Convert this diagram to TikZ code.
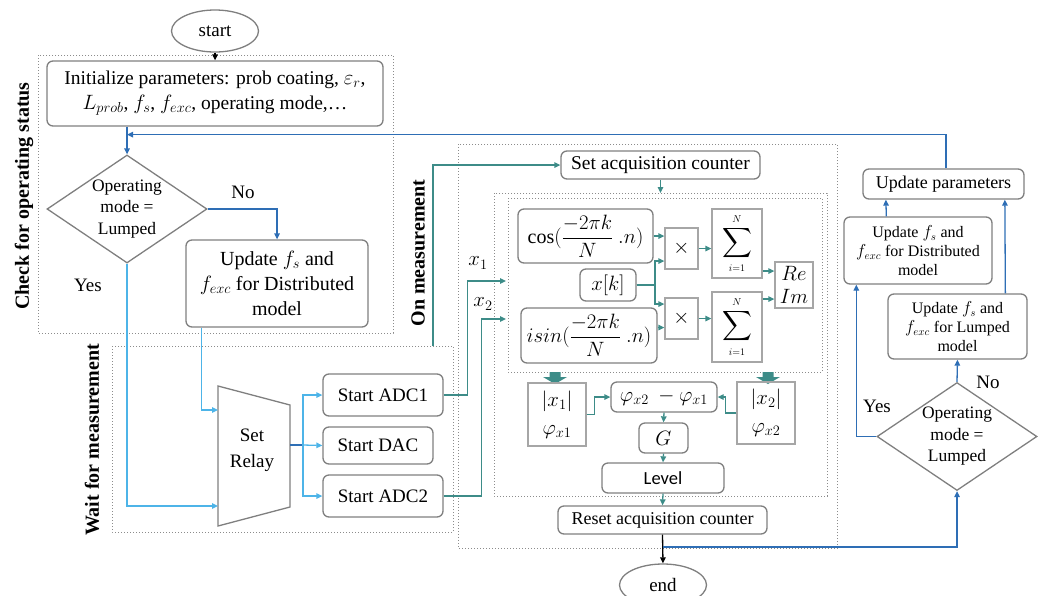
\documentclass[tikz,border=0pt]{standalone}
\usepackage{amsmath}
\usepackage{fontspec}
\setmainfont{Liberation Serif}
\newfontfamily\levelfont{Carlito}
\usetikzlibrary{arrows.meta,shapes.geometric,calc}

\definecolor{boxgray}{HTML}{7F7F7F}
\definecolor{lightframe}{HTML}{A6A6A6}
\definecolor{dotgray}{HTML}{8C8C8C}
\definecolor{darkblue}{HTML}{2E6EB5}
\definecolor{skyblue}{HTML}{4DB4E8}
\definecolor{tealc}{HTML}{3D8C88}

\begin{document}
\begin{tikzpicture}[x=1pt,y=-1pt,
  every node/.style={inner sep=0pt, align=center},
  font=\fontsize{19}{25}\selectfont,
  rbox/.style={draw=boxgray, line width=1.3pt, rounded corners=6pt},
  sbox/.style={draw=lightframe, line width=1.3pt},
  oval/.style={ellipse, draw=boxgray, line width=1.3pt, minimum width=87, minimum height=42},
  decide/.style={diamond, draw=boxgray, line width=1.3pt, aspect=1.5,
                 minimum width=160, minimum height=108,
                 font=\fontsize{17.5}{21.5}\selectfont},
  group/.style={draw=dotgray, dotted, line width=1pt},
  tip/.style={-{Triangle[length=6pt,width=5.5pt]}},
  dblue/.style={draw=darkblue, line width=1.3pt, tip},
  sblue/.style={draw=skyblue, line width=1.3pt, tip},
  tline/.style={draw=tealc, line width=1.3pt, tip},
  blk/.style={draw=black, line width=1.3pt, tip},
  sidelabel/.style={font=\bfseries\fontsize{20}{22}\selectfont, rotate=90},
  mathfont/.style={font=\fontsize{20}{24}\selectfont}
]
\useasboundingbox (0,0) rectangle (1044,595);

% ---------- group frames ----------
\draw[group] (38,55) rectangle (393,333);
\draw[group] (112,346) rectangle (453,532);
\draw[group] (458,144) rectangle (837,548);
\draw[group] (494,193) rectangle (827,496);
\draw[group] (508,198) rectangle (822,372);

\node[sidelabel] (lcheck) at (24,196) {Check for operating status};
\node[sidelabel] (lwait) at (92,440) {Wait for measurement};
\node[sidelabel] (lmeas) at (418,253) {On measurement};

% ---------- initialisation and mode check ----------
\node[oval] (start) at (215,31) {start};
\node[rbox, minimum width=336, minimum height=65, font=\fontsize{19.5}{25}\selectfont] (init) at (215,93.5)
  {Initialize parameters: prob coating, $\varepsilon_r$,\\
   $L_{prob}$, $f_s$, $f_{exc}$, operating mode,\ldots};
\node[decide] (d1) at (127,209) {Operating\\mode =\\Lumped};
\node[rbox, minimum width=182, minimum height=87, font=\fontsize{20}{25}\selectfont]
  (ud1) at (277,283.5) {Update $f_s$ and\\ $f_{exc}$ for Distributed\\ model};
\node (no1) at (243,192) {No};
\node (yes1) at (88,285) {Yes};

\draw[blk] (start.south) -- (init.north);
\draw[dblue] (init.south -| d1.north) -- (d1.north);
\draw[dblue] (d1.east) -| (ud1.north);

% ---------- relay and converters ----------
\coordinate (ra) at (218,386);
\coordinate (rb) at (290,405);
\coordinate (rc) at (290,507);
\coordinate (rd) at (218,526);
\draw[boxgray, line width=1.3pt] (ra) -- (rb) -- (rc) -- (rd) -- cycle;
\node[font=\fontsize{19}{26}\selectfont] (relay) at (252,450) {Set\\Relay};
\coordinate (rin1) at (218,410);
\coordinate (rin2) at (218,506);
\coordinate (rout) at (290,445);
\coordinate (fork) at (303,445);

\node[rbox, minimum width=120, minimum height=42] (adc1) at (383,395) {Start ADC1};
\node[rbox, minimum width=110, minimum height=37] (dac) at (378,445.5) {Start DAC};
\node[rbox, minimum width=120, minimum height=42] (adc2) at (383,496) {Start ADC2};

\draw[sblue] ($(ud1.south west)+(16,0)$) |- (rin1);
\draw[sblue] (d1.south) |- (rin2);
\draw[darkblue, line width=1.3pt] (rout) -- (fork);
\draw[sblue] (fork) |- (adc1.west);
\draw[sblue] (fork) -- (dac.west);
\draw[sblue] (fork) |- (adc2.west);

% ---------- measurement ----------
\coordinate (wtop) at (433,346);
\node[rbox, minimum width=199, minimum height=28, font=\fontsize{19.5}{24}\selectfont]
  (sac) at (660.5,165) {Set acquisition counter};
\coordinate (innertop) at (660.5,193);
\draw[tline] (wtop) |- (sac.west);
\draw[tline] (sac.south) -- (innertop);

\coordinate (x1in) at (506,281);
\coordinate (x2in) at (506,319);
\draw[tline] (adc1.east) -- ++(24,0) |- (x1in);
\draw[tline] (adc2.east) -- ++(38,0) |- (x2in);
\node[mathfont] (lx1) at (478,263) {$x_1$};
\node[mathfont] (lx2) at (483,304) {$x_2$};

\node[rbox, minimum width=135, minimum height=54, mathfont] (cosb) at (585.5,236)
  {$\cos(\dfrac{-2\pi k}{N}\ .n)$};
\node[rbox, minimum width=56, minimum height=32, mathfont] (xk) at (608,285) {$x[k]$};
\node[rbox, minimum width=136, minimum height=55, mathfont] (sinb) at (589,335.5)
  {$isin(\dfrac{-2\pi k}{N}\ .n)$};
\node[sbox, minimum width=33, minimum height=41, mathfont] (mul1) at (681.5,248.5) {$\times$};
\node[sbox, minimum width=33, minimum height=41, mathfont] (mul2) at (681.5,318.5) {$\times$};
\node[sbox, minimum width=50, minimum height=69, mathfont] (sum1) at (737,243.5)
  {$\displaystyle\sum_{\scriptscriptstyle i=1}^{\scriptscriptstyle N}$};
\node[sbox, minimum width=50, minimum height=70, mathfont] (sum2) at (737,327)
  {$\displaystyle\sum_{\scriptscriptstyle i=1}^{\scriptscriptstyle N}$};
\node[sbox, minimum width=38, minimum height=46, font=\fontsize{20}{23}\selectfont]
  (reim) at (794,285) {$Re$\\$Im$};

\draw[tline] (cosb.east) -- (cosb.east -| mul1.west);
\draw[tline] (xk.east) -- (655,285) |- ($(mul1.west)+(0,12.5)$);
\draw[tline] (xk.east) -- (655,285) |- ($(mul2.west)+(0,-14.5)$);
\draw[tline] ($(sinb.east)+(0,-8)$) -- ($(mul2.west)+(0,9)$);
\draw[tline] (mul1.east) -- (mul1.east -| sum1.west);
\draw[tline] (mul2.east) -- (mul2.east -| sum2.west);
\draw[tline] ($(sum1.east)+(0,27.5)$) -- ($(reim.west)+(0,-14)$);
\draw[tline] ($(sum2.east)+(0,-28)$) -- ($(reim.west)+(0,14)$);

% wide arrows out of the transform block
\fill[tealc] (549.5,372) -- (560.5,372) -- (560.5,377) -- (567,377) -- (555,384)
  -- (543,377) -- (549.5,377) -- cycle;
\fill[tealc] (762.5,372) -- (773.5,372) -- (773.5,377) -- (780,377) -- (768,384)
  -- (756,377) -- (762.5,377) -- cycle;

\node[sbox, minimum width=58, minimum height=63, font=\fontsize{20}{28}\selectfont]
  (mag1) at (557,414.5) {$|x_1|$\\$\varphi_{x1}$};
\node[sbox, minimum width=58, minimum height=62, font=\fontsize{20}{28}\selectfont]
  (mag2) at (766,413) {$|x_2|$\\$\varphi_{x2}$};
\node[rbox, minimum width=106, minimum height=30, mathfont] (phd) at (664,397)
  {$\varphi_{x2}\ -\varphi_{x1}$};
\node[rbox, minimum width=49, minimum height=30, mathfont] (gain) at (663.5,438) {$G$};
\node[rbox, minimum width=122, minimum height=30, font=\levelfont\fontsize{18.5}{22}\selectfont]
  (level) at (663,478) {Level};
\node[rbox, minimum width=209, minimum height=28, font=\fontsize{18}{22}\selectfont]
  (reset) at (662.5,520) {Reset acquisition counter};
\node[oval] (end) at (663,585) {end};

\draw[tline] (mag1.east) -- ++(8,0) |- (phd.west);
\draw[tline] (mag2.west) -- ++(-11,0) |- (phd.east);
\draw[tline] (phd.south) -- (gain.north);
\draw[tline] (gain.south) -- (level.north);
\draw[tline] (level.south) -- (reset.north);
\draw[blk] (reset.south) -- (end.north);

% ---------- parameter update ----------
\node[decide] (d2) at (957,436.5) {Operating\\mode =\\Lumped};
\node[rbox, minimum width=139, minimum height=65, font=\fontsize{16}{19}\selectfont]
  (ulump) at (957.5,326.5) {Update $f_s$ and\\ $f_{exc}$ for Lumped\\ model};
\node[rbox, minimum width=148, minimum height=67, font=\fontsize{16}{19}\selectfont]
  (udist) at (918,250.5) {Update $f_s$ and\\ $f_{exc}$ for Distributed\\ model};
\node[rbox, minimum width=161, minimum height=30, font=\fontsize{18}{22}\selectfont]
  (upar) at (943.5,184) {Update parameters};
\node (no2) at (988,382) {No};
\node (yes2) at (877,406) {Yes};

\coordinate (tap) at (663,547);
\coordinate (fbin) at ($(init.south -| d1.north)+(0,8)$);
\draw[dblue] (tap) -| (d2.south);
\draw[dblue] (d2.north) -- (ulump.south);
\draw[dblue] (d2.west) -| ($(udist.south west)+(13,0)$);
\draw[dblue] ($(ulump.north west)+(118,0)$) -- ($(upar.south west)+(142.5,0)$);
\draw[dblue] ($(udist.north west)+(43,0)$) -- ($(upar.south west)+(23.5,0)$);
\draw[dblue] ($(upar.north west)+(83.5,0)$) |- (fbin);
\end{tikzpicture}
\end{document}
